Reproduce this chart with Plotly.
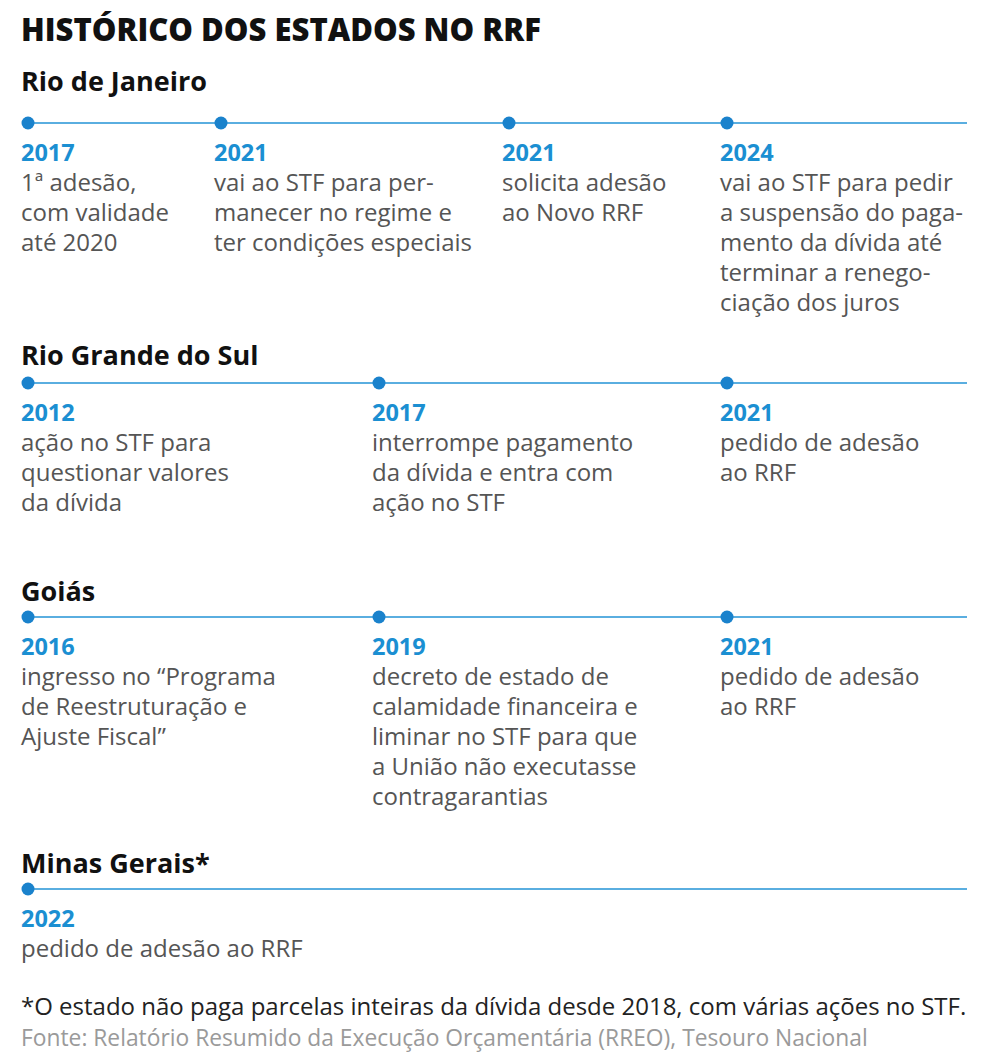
import plotly.graph_objects as go

# ---------------- data ----------------
title = "HISTÓRICO DOS ESTADOS NO RRF"
states = ["Rio de Janeiro", "Rio Grande do Sul", "Goiás", "Minas Gerais*"]

rj_years = ["2017", "2021", "2021", "2024"]
rj_texts = [
    ["1ª adesão,", "com validade", "até 2020"],
    ["vai ao STF para per-", "manecer no regime e", "ter condições especiais"],
    ["solicita adesão", "ao Novo RRF"],
    ["vai ao STF para pedir", "a suspensão do paga-", "mento da dívida até", "terminar a renego-", "ciação dos juros"],
]
rs_years = ["2012", "2017", "2021"]
rs_texts = [
    ["ação no STF para", "questionar valores", "da dívida"],
    ["interrompe pagamento", "da dívida e entra com", "ação no STF"],
    ["pedido de adesão", "ao RRF"],
]
go_years = ["2016", "2019", "2021"]
go_texts = [
    ["ingresso no “Programa", "de Reestruturação e", "Ajuste Fiscal”"],
    ["decreto de estado de", "calamidade financeira e", "liminar no STF para que", "a União não executasse", "contragarantias"],
    ["pedido de adesão", "ao RRF"],
]
mg_years = ["2022"]
mg_texts = [["pedido de adesão ao RRF"]]

footnote = "*O estado não paga parcelas inteiras da dívida desde 2018, com várias ações no STF."
source = "Fonte: Relatório Resumido da Execução Orçamentária (RREO), Tesouro Nacional"

# ---------------- layout constants ----------------
W, H = 984, 1061
PAGE_OFF = 8  # default page margin of the browser body
LEFT = 22
TXT_SHIFT = 3
LINE_END = 967
header_y = [80, 354, 590, 862]
line_y = [123, 383, 617, 889]
col_x = [[22, 215, 503, 721], [22, 373, 721], [22, 373, 721], [22]]
LINE_STEP = 30
YEAR_OFF = 29
TEXT_OFF = 58.5

LINE_COLOR = "#5aaee0"
DOT_COLOR = "#1a82cc"
YEAR_COLOR = "#1b8fd2"
BODY_COLOR = "#555555"
FONT = "Open Sans"

years_all = [rj_years, rs_years, go_years, mg_years]
texts_all = [rj_texts, rs_texts, go_texts, mg_texts]

fig = go.Figure()
ann = []

ann.append(dict(x=LEFT - TXT_SHIFT, y=29, text=title, showarrow=False, xanchor="left", yanchor="middle",
                font=dict(family=FONT, size=31, color="#111111", weight=800)))

for i, st in enumerate(states):
    ly = line_y[i]
    fig.add_trace(go.Scatter(x=[col_x[i][0] + 6, LINE_END], y=[ly, ly], mode="lines",
                             line=dict(color=LINE_COLOR, width=2), hoverinfo="skip", showlegend=False))
    fig.add_trace(go.Scatter(x=[c + 6 for c in col_x[i]], y=[ly] * len(col_x[i]), mode="markers",
                             marker=dict(color=DOT_COLOR, size=13, line=dict(width=0)),
                             hoverinfo="skip", showlegend=False))
    ann.append(dict(x=LEFT - TXT_SHIFT, y=header_y[i], text=st, showarrow=False, xanchor="left", yanchor="middle",
                    font=dict(family=FONT, size=27, color="#111111", weight=700)))
    for j, (yr, lines) in enumerate(zip(years_all[i], texts_all[i])):
        cx = col_x[i][j]
        ann.append(dict(x=cx - TXT_SHIFT, y=ly + YEAR_OFF, text=yr, showarrow=False, xanchor="left", yanchor="middle",
                        font=dict(family=FONT, size=23.5, color=YEAR_COLOR, weight=700)))
        for k, ln in enumerate(lines):
            ann.append(dict(x=cx - TXT_SHIFT, y=ly + TEXT_OFF + k * LINE_STEP, text=ln, showarrow=False,
                            xanchor="left", yanchor="middle",
                            font=dict(family=FONT, size=24, color=BODY_COLOR)))

ann.append(dict(x=LEFT - TXT_SHIFT, y=1005, text=footnote, showarrow=False, xanchor="left", yanchor="middle",
                font=dict(family=FONT, size=24, color="#222222")))
ann.append(dict(x=LEFT - TXT_SHIFT, y=1037, text=source, showarrow=False, xanchor="left", yanchor="middle",
                font=dict(family=FONT, size=22.8, color="#9a9a9a")))

fig.update_layout(
    width=W - PAGE_OFF, height=H - PAGE_OFF, margin=dict(l=0, r=0, t=0, b=0),
    paper_bgcolor="white", plot_bgcolor="white",
    xaxis=dict(range=[PAGE_OFF, W], visible=False, fixedrange=True),
    yaxis=dict(range=[H, PAGE_OFF], visible=False, fixedrange=True),
    annotations=ann, showlegend=False,
)
fig.write_html("out.html")
